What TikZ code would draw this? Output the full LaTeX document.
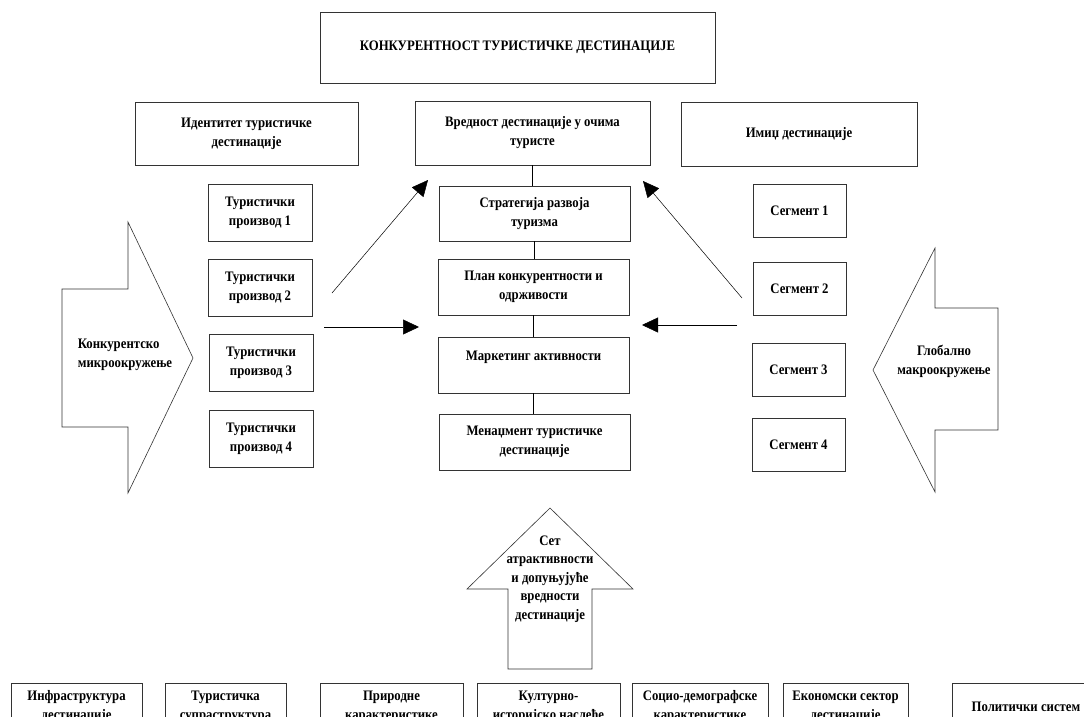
\documentclass[tikz,border=0pt]{standalone}
\usepackage{fontspec}
\setmainfont[FakeStretch=0.88]{Liberation Serif}
\usetikzlibrary{arrows.meta,positioning}

\begin{document}
\begin{tikzpicture}[x=1pt,y=-1pt,
  font=\fontsize{14.5}{19}\selectfont\bfseries,
  box/.style={draw=black!80,line width=0.8pt,align=center,inner sep=2pt},
  arr/.style={-{Triangle[length=16pt,width=15pt]},line width=0.5pt}]
\useasboundingbox (0,0) rectangle (1084,716);
\clip (0,0) rectangle (1084,716);
% top row
\node[box,minimum width=395,minimum height=71] (title) at (517.5,47.5) {КОНКУРЕНТНОСТ ТУРИСТИЧКЕ ДЕСТИНАЦИЈЕ};
\node[box,minimum width=223,minimum height=63] (ident) at (246.5,133.5) {Идентитет туристичке\\дестинације};
\node[box,minimum width=235,minimum height=64] (vred) at (532.5,133) {Вредност дестинације у очима\\туристе};
\node[box,minimum width=236,minimum height=64] (imic) at (799,134) {Имиџ дестинације};
% middle column
\node[box,minimum width=191,minimum height=55] (strat) at (534.5,213.5) {Стратегија развоја\\туризма};
\node[box,minimum width=191,minimum height=56] (plan) at (533.5,287) {План конкурентности и\\одрживости};
\node[box,minimum width=191,minimum height=56] (mark) at (533.5,365) {Маркетинг активности\\\mbox{}};
\node[box,minimum width=191,minimum height=56] (men) at (534.5,442) {Менаџмент туристичке\\дестинације};
\draw[line width=0.5pt] (vred.south) -- (vred.south |- strat.north);
\draw[line width=0.5pt] (strat.south) -- (strat.south |- plan.north);
\draw[line width=0.5pt] (plan.south) -- (plan.south |- mark.north);
\draw[line width=0.5pt] (mark.south) -- (mark.south |- men.north);
% products
\node[box,minimum width=104,minimum height=57] (p1) at (260,212.5) {Туристички\\производ 1};
\node[box,minimum width=104,minimum height=57] (p2) at (260,287.5) {Туристички\\производ 2};
\node[box,minimum width=104,minimum height=57] (p3) at (261,362.5) {Туристички\\производ 3};
\node[box,minimum width=104,minimum height=57] (p4) at (261,438.5) {Туристички\\производ 4};
% segments
\node[box,minimum width=93,minimum height=53] (s1) at (799.5,210.5) {Сегмент 1};
\node[box,minimum width=93,minimum height=53] (s2) at (799.5,288.5) {Сегмент 2};
\node[box,minimum width=93,minimum height=53] (s3) at (798.5,369.5) {Сегмент 3};
\node[box,minimum width=93,minimum height=53] (s4) at (798.5,444.5) {Сегмент 4};
% side shapes
\draw[draw=black!80,line width=0.6pt] (62,289) -- (128,289) -- (128,222) -- (193,358) -- (128,493) -- (128,427) -- (62,427) -- cycle;
\node[align=left] (micro) at (125,355) {Конкурентско\\микроокружење};
\draw[draw=black!80,line width=0.6pt] (998,308) -- (935,308) -- (935,248) -- (873,370) -- (935,492) -- (935,430) -- (998,430) -- cycle;
\node[align=center] (macro) at (944,361) {Глобално\\макроокружење};
\draw[draw=black!80,line width=0.6pt] (550,508) -- (633,589) -- (592,589) -- (592,669) -- (508,669) -- (508,589) -- (467,589) -- cycle;
\node[align=center,font=\fontsize{14.5}{18.5}\selectfont\bfseries] (set) at (550,579) {Сет\\атрактивности\\и допуњујуће\\вредности\\дестинације};
% free arrows
\coordinate (a1s) at (332,293); \coordinate (a1e) at (428,180);
\coordinate (a2s) at (324,327); \coordinate (a2e) at (419,327);
\coordinate (a3s) at (737,325); \coordinate (a3e) at (642,325);
\coordinate (a4s) at (742,298); \coordinate (a4e) at (643,181);
\draw[arr] (a1s) -- (a1e);
\draw[arr] (a2s) -- (a2e);
\draw[arr] (a3s) -- (a3e);
\draw[arr] (a4s) -- (a4e);
% bottom row
\node[box,anchor=north,minimum width=131,minimum height=46] (b1) at (76.5,683) {Инфраструктура\\дестинације};
\node[box,anchor=north,minimum width=121,minimum height=46] (b2) at (225.5,683) {Туристичка\\супраструктура};
\node[box,anchor=north,minimum width=143,minimum height=46] (b3) at (391.5,683) {Природне\\карактеристике};
\node[box,anchor=north,minimum width=143,minimum height=46] (b4) at (548.5,683) {Културно-\\историјско наслеђе};
\node[box,anchor=north,minimum width=136,minimum height=46] (b5) at (700,683) {Социо-демографске\\карактеристике};
\node[box,anchor=north,minimum width=125,minimum height=46] (b6) at (845.5,683) {Економски сектор\\дестинације};
\node[box,anchor=north,minimum width=148,minimum height=46] (b7) at (1026,683) {Политички систем};
\end{tikzpicture}
\end{document}
